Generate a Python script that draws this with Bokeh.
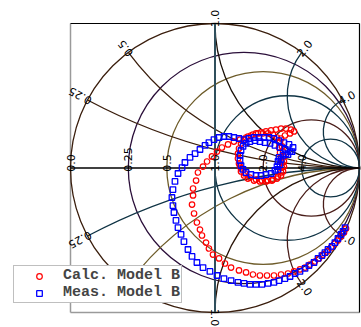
import numpy as np
from bokeh.plotting import figure
from bokeh.models import ColumnDataSource, Legend, LegendItem
from bokeh.core.properties import value
from bokeh.embed import file_html
from bokeh.resources import INLINE

# ---- Smith chart grid values and tick labels ----
R_VALUES = [0.0, 0.25, 0.5, 1.0, 2.0, 4.0]
R_LABELS = ["0.0", "0.25", "0.5", "1.0", "2.0", "4.0"]
X_VALUES = [0.25, 0.5, 1.0, 2.0, 4.0]
X_LABELS = ["0.25", "0.5", "1.0", "2.0", "4.0"]

# ---- Calc. Model B : reflection coefficient (Re, Im) ----
calc_re = [0.907, 0.893, 0.872, 0.851, 0.830, 0.803, 0.775, 0.747, 0.720, 0.692,
           0.657, 0.623, 0.588, 0.547, 0.505, 0.457, 0.408, 0.360, 0.311, 0.263,
           0.215, 0.166, 0.111, 0.069, 0.028, -0.014, -0.042, -0.062, -0.090, -0.104,
           -0.125, -0.145, -0.159, -0.152, -0.152, -0.131, -0.118, -0.083, -0.055, -0.021,
           0.014, 0.048, 0.090, 0.131, 0.173, 0.215, 0.249, 0.284, 0.318, 0.353,
           0.388, 0.422, 0.457, 0.491, 0.526, 0.547, 0.519, 0.484, 0.457, 0.443,
           0.443, 0.450, 0.457, 0.464, 0.464, 0.457, 0.436, 0.401, 0.367, 0.325,
           0.284, 0.242, 0.208, 0.180, 0.166, 0.159, 0.159, 0.166, 0.180, 0.201,
           0.228, 0.263, 0.298, 0.332, 0.367, 0.401, 0.429, 0.450, 0.464, 0.471,
           0.477, 0.477, 0.477, 0.471, 0.457, 0.429, 0.394, 0.353, 0.311, 0.270,
           0.228, 0.201, 0.180, 0.173]
calc_im = [-0.419, -0.446, -0.474, -0.502, -0.522, -0.550, -0.578, -0.599, -0.626, -0.647,
           -0.668, -0.689, -0.702, -0.716, -0.730, -0.737, -0.744, -0.744, -0.744, -0.737,
           -0.723, -0.709, -0.689, -0.661, -0.626, -0.599, -0.557, -0.516, -0.467, -0.426,
           -0.377, -0.315, -0.253, -0.190, -0.142, -0.087, -0.031, 0.010, 0.045, 0.080,
           0.114, 0.142, 0.163, 0.183, 0.197, 0.211, 0.225, 0.239, 0.246, 0.253,
           0.260, 0.266, 0.273, 0.273, 0.266, 0.253, 0.239, 0.225, 0.204, 0.176,
           0.142, 0.107, 0.073, 0.038, 0.003, -0.031, -0.059, -0.080, -0.087, -0.087,
           -0.080, -0.066, -0.038, -0.003, 0.031, 0.066, 0.100, 0.135, 0.170, 0.197,
           0.218, 0.232, 0.239, 0.239, 0.239, 0.232, 0.211, 0.183, 0.149, 0.114,
           0.080, 0.045, 0.010, -0.024, -0.052, -0.073, -0.087, -0.093, -0.093, -0.087,
           -0.073, -0.052, -0.024, 0.010]

# ---- Meas. Model B : reflection coefficient (Re, Im) ----
meas_re = [0.900, 0.886, 0.872, 0.851, 0.830, 0.810, 0.782, 0.761, 0.740, 0.713,
           0.685, 0.650, 0.623, 0.588, 0.554, 0.519, 0.484, 0.443, 0.408, 0.367,
           0.325, 0.284, 0.242, 0.201, 0.159, 0.111, 0.062, 0.014, -0.035, -0.083,
           -0.125, -0.159, -0.187, -0.215, -0.235, -0.256, -0.270, -0.284, -0.291, -0.298,
           -0.291, -0.277, -0.256, -0.228, -0.208, -0.173, -0.138, -0.104, -0.069, -0.042,
           -0.007, 0.028, 0.062, 0.097, 0.131, 0.166, 0.201, 0.235, 0.270, 0.304,
           0.339, 0.374, 0.408, 0.443, 0.477, 0.512, 0.540, 0.533, 0.505, 0.471,
           0.443, 0.436, 0.429, 0.415, 0.388, 0.353, 0.318, 0.284, 0.249, 0.215,
           0.194, 0.180, 0.173, 0.173, 0.180, 0.194, 0.215, 0.242, 0.277, 0.311,
           0.346, 0.381, 0.415, 0.450, 0.484, 0.519, 0.491, 0.457, 0.450, 0.436]
meas_im = [-0.412, -0.439, -0.460, -0.488, -0.516, -0.543, -0.564, -0.585, -0.606, -0.626,
           -0.654, -0.675, -0.695, -0.716, -0.730, -0.751, -0.765, -0.779, -0.792, -0.799,
           -0.806, -0.806, -0.806, -0.799, -0.792, -0.779, -0.765, -0.744, -0.716, -0.689,
           -0.654, -0.612, -0.564, -0.509, -0.460, -0.412, -0.363, -0.308, -0.260, -0.204,
           -0.149, -0.093, -0.038, 0.003, 0.038, 0.073, 0.100, 0.128, 0.156, 0.176,
           0.197, 0.211, 0.218, 0.218, 0.211, 0.204, 0.197, 0.204, 0.211, 0.211,
           0.211, 0.211, 0.204, 0.190, 0.176, 0.163, 0.142, 0.114, 0.093, 0.087,
           0.073, 0.045, 0.010, -0.017, -0.038, -0.045, -0.052, -0.052, -0.045, -0.031,
           -0.010, 0.017, 0.052, 0.087, 0.121, 0.149, 0.170, 0.183, 0.190, 0.183,
           0.176, 0.170, 0.156, 0.142, 0.128, 0.114, 0.100, 0.059, 0.024, -0.010]

# ---- styling ----
R_COLORS = ["#3b1f0e", "#2b0f3a", "#6e5c2a", "#0f3344", "#4a1e1a", "#0f3344"]
X_POS_COLORS = ["#3b1f0e", "#3b1f0e", "#1a1008", "#0f3344", "#0f3344"]
X_NEG_COLORS = ["#0f3344", "#6e5c2a", "#2a1508", "#4a1e1a", "#4a1e1a"]

W, H = 361, 327
PPU = 144.5          # pixels per unit of |Gamma|
LEFT, TOP = 70, 23   # position of the unit square inside the canvas

x0 = -1 - LEFT / PPU
y1 = 1 + TOP / PPU
p = figure(width=W, height=H, output_backend="svg", toolbar_location=None,
           x_range=(x0, x0 + W / PPU), y_range=(y1 - H / PPU, y1),
           x_axis_location=None, y_axis_location=None,
           min_border=0, min_border_left=0, min_border_right=0,
           min_border_top=0, min_border_bottom=0)
p.outline_line_color = None
p.background_fill_color = "white"
p.border_fill_color = "white"
p.xgrid.visible = False
p.ygrid.visible = False

# frame box
p.segment(x0=[-1, -1], y0=[-1, -1], x1=[-1, 1], y1=[1, -1], line_color="#9a9a9a", line_width=1.5)
p.segment(x0=[-1, 1], y0=[1, -1], x1=[1, 1], y1=[1, 1], line_color="#000000", line_width=1.2)

# constant resistance circles
for r, col in zip(R_VALUES, R_COLORS):
    p.circle(x=[r / (r + 1)], y=[0], radius=1 / (r + 1), fill_color=None,
             line_color=col, line_width=1.3)

# constant reactance arcs
for xv, cpos, cneg in zip(X_VALUES, X_POS_COLORS, X_NEG_COLORS):
    gx = (xv**2 - 1) / (xv**2 + 1)
    gy = 2 * xv / (xv**2 + 1)
    rad = 1 / xv
    a_up = float(np.arctan2(gy - rad, gx - 1))
    p.arc(x=[1], y=[rad], radius=rad, start_angle=a_up, end_angle=-np.pi / 2,
          direction="anticlock", line_color=cpos, line_width=1.3)
    a_dn = float(np.arctan2(-gy + rad, gx - 1))
    p.arc(x=[1], y=[-rad], radius=rad, start_angle=np.pi / 2, end_angle=a_dn,
          direction="anticlock", line_color=cneg, line_width=1.3)

# real axis and vertical centre line
p.segment(x0=[-1], y0=[0], x1=[1], y1=[0], line_color="black", line_width=1.3)
p.segment(x0=[0], y0=[-1], x1=[0], y1=[1], line_color="#2f4f5c", line_width=2)

# labels
OFF = 3.8 / PPU
lx, ly, lt, la = [], [], [], []
for r, lab in zip(R_VALUES, R_LABELS):
    g = (r - 1) / (r + 1)
    lx.append(g); ly.append(-OFF); lt.append(lab); la.append(np.pi / 2)
for xv, lab in zip(X_VALUES, X_LABELS):
    gx = (xv**2 - 1) / (xv**2 + 1)
    gy = 2 * xv / (xv**2 + 1)
    for s in (1, -1):
        ang = float(np.arctan2(s * gy, gx))
        lx.append(gx - OFF * np.cos(ang)); ly.append(s * gy - OFF * np.sin(ang))
        lt.append(lab); la.append(ang)
p.text(x=lx, y=ly, text=lt, angle=la, text_font=value("DejaVu Sans"),
       text_font_size="11px", text_align="left", text_baseline="middle",
       text_color="black")

# data
src_c = ColumnDataSource(dict(x=calc_re, y=calc_im))
src_m = ColumnDataSource(dict(x=meas_re, y=meas_im))
rc = p.scatter("x", "y", source=src_c, marker="circle", size=5.5, fill_color=None,
               line_color="#ff0000", line_width=1.2)
rm = p.scatter("x", "y", source=src_m, marker="square", size=5.5, fill_color=None,
               line_color="#0000ff", line_width=1.3)

legend = Legend(items=[LegendItem(label="Calc. Model B", renderers=[rc]),
                       LegendItem(label="Meas. Model B", renderers=[rm])],
                location=(13, 24), margin=0, padding=1, spacing=0,
                glyph_width=48, glyph_height=14, label_height=16,
                label_standoff=0,
                label_text_font="Liberation Mono", label_text_font_style="bold",
                label_text_font_size="15px",
                border_line_color="#808080", border_line_width=1.5,
                background_fill_color="white", background_fill_alpha=1.0)
p.add_layout(legend, "center")

open("out.html", "w").write(file_html(p, INLINE))
